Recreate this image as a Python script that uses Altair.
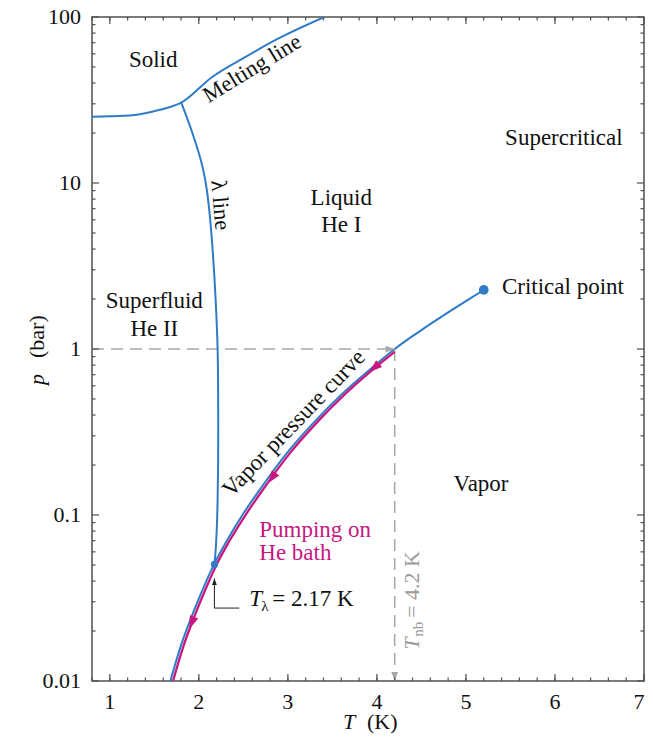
import altair as alt
import pandas as pd

FONT = "Liberation Serif"
BLUE = "#2f7bc8"
MAGENTA = "#c8177f"
GRAY = "#a8a8a8"
AXIS = "#505050"
INK = "#111111"

W, H = 552, 664

# ---- data ----
VP_T = [1.68, 1.8, 1.9, 2.0, 2.17, 2.3, 2.5, 2.7, 3.0, 3.3, 3.6, 4.0, 4.2, 4.5, 4.8, 5.0, 5.2]
VP_P = [0.0100, 0.0164, 0.0230, 0.0313, 0.0504, 0.0678, 0.102, 0.146, 0.240, 0.365, 0.530, 0.816, 1.00, 1.30, 1.66, 1.945, 2.27]

PUMP_T = [1.71, 1.83, 1.93, 2.03, 2.20, 2.33, 2.535, 2.735, 3.035, 3.335, 3.635, 4.035, 4.20]
PUMP_P = [0.0100, 0.0164, 0.0230, 0.0313, 0.0504, 0.0678, 0.102, 0.146, 0.240, 0.365, 0.530, 0.816, 0.96]

LAMBDA_T = [2.175, 2.189, 2.201, 2.211, 2.217, 2.217, 2.211, 2.189, 2.155, 2.117, 2.072, 2.022, 1.916, 1.803]
LAMBDA_P = [0.0504, 0.0616, 0.0813, 0.123, 0.214, 0.493, 1.0, 1.973, 3.95, 6.88, 10.42, 13.76, 20.86, 30.5]

MELT_T = [0.8, 1.0, 1.26, 1.56, 1.803, 2.15, 2.53, 2.90, 3.41]
MELT_P = [25.1, 25.2, 25.6, 27.6, 30.5, 43.5, 57.7, 74.5, 100.0]

CRIT_T, CRIT_P = [5.2], [2.27]
LPT_T, LPT_P = [2.175], [0.0504]

ARROW_T = [3.97, 2.82, 1.92]
ARROW_P = [0.77, 0.167, 0.0224]
ARROW_ANGLE = [139, 126, 111]

T_NB = 4.2
P_ATM = 1.0

X_MAJOR = [1, 2, 3, 4, 5, 6, 7]
X_LABELS = ["1", "2", "3", "4", "5", "6", "7"]
X_MINOR = [round(0.8 + 0.2 * k, 1) for k in range(32)]
Y_MAJOR = [0.01, 0.1, 1, 10, 100]
Y_LABELS = ["0.01", "0.1", "1", "10", "100"]
Y_MINOR = [m * 10.0 ** e for e in range(-2, 2) for m in range(2, 10)]

xs = alt.Scale(domain=[0.8, 7], nice=False, zero=False)
ys = alt.Scale(type="log", domain=[0.01, 100], nice=False)


def X(field="t"):
    return alt.X(f"{field}:Q", scale=xs, axis=None)


def Y(field="p"):
    return alt.Y(f"{field}:Q", scale=ys, axis=None)


def curve(ts, ps, color, width, interp, dash=None):
    df = pd.DataFrame({"t": ts, "p": ps, "i": list(range(len(ts)))})
    kw = dict(color=color, strokeWidth=width, interpolate=interp, clip=True)
    if dash:
        kw["strokeDash"] = dash
    return alt.Chart(df).mark_line(**kw).encode(x=X(), y=Y(), order="i:Q")


vapor = curve(VP_T, VP_P, BLUE, 2, "monotone")
dash_h = curve([0.8, T_NB], [P_ATM, P_ATM], GRAY, 1.5, "linear", [12, 7])
dash_v = curve([T_NB, T_NB], [P_ATM, 0.01], GRAY, 1.5, "linear", [12, 7])

pump = curve(PUMP_T, PUMP_P, MAGENTA, 2.3, "monotone")
lam = curve(LAMBDA_T, LAMBDA_P, BLUE, 2, "catmull-rom")
melt = curve(MELT_T, MELT_P, BLUE, 2, "monotone")

# leader for T_lambda
leader = curve([2.455, 2.175, 2.175], [0.0275, 0.0275, 0.0415], "#222222", 1, "linear")

TIP = "M0,0 L-2,-0.75 L-2,0.75 Z"
CENTERED = "M1,0 L-1,-0.7 L-1,0.7 Z"

gray_arrows = alt.Chart(pd.DataFrame({"t": [T_NB, T_NB], "p": [P_ATM, 0.01], "a": [0, 90]})).mark_point(
    shape=TIP, filled=True, size=81, color=GRAY, opacity=1, strokeWidth=0
).encode(x=X(), y=Y(), angle=alt.Angle("a:Q", scale=None))

leader_arrow = alt.Chart(pd.DataFrame({"t": [2.175], "p": [0.0415], "a": [270]})).mark_point(
    shape=TIP, filled=True, size=42, color="#222222", opacity=1, strokeWidth=0
).encode(x=X(), y=Y(), angle=alt.Angle("a:Q", scale=None))

pump_arrows = alt.Chart(pd.DataFrame({"t": ARROW_T, "p": ARROW_P, "a": ARROW_ANGLE})).mark_point(
    shape=CENTERED, filled=True, size=169, color=MAGENTA, opacity=1, strokeWidth=0
).encode(x=X(), y=Y(), angle=alt.Angle("a:Q", scale=None))

dots = alt.Chart(pd.DataFrame({"t": CRIT_T + LPT_T, "p": CRIT_P + LPT_P, "s": [95, 50]})).mark_circle(
    color=BLUE, opacity=1
).encode(x=X(), y=Y(), size=alt.Size("s:Q", scale=None, legend=None))


def label(t, p, s, color=INK, size=23, baseline="alphabetic", **kw):
    df = pd.DataFrame({"t": [t], "p": [p], "s": [s]})
    return alt.Chart(df).mark_text(font=FONT, fontSize=size, color=color, baseline=baseline, **kw).encode(
        x=X(), y=Y(), text="s:N")


labels = [
    label(1.487, 50.0, "Solid"),
    label(3.60, 7.36, "Liquid"),
    label(3.60, 5.09, "He I"),
    label(6.10, 16.9, "Supercritical"),
    label(1.50, 1.77, "Superfluid"),
    label(1.50, 1.197, "He II"),
    label(5.17, 0.14, "Vapor"),
    label(5.404, 2.14, "Critical point", align="left"),
    label(2.679, 0.0734, "Pumping on", color=MAGENTA, align="left"),
    label(2.679, 0.0536, "He bath", color=MAGENTA, align="left"),
    label(2.639, 45.1, "Melting line", size=22.5, angle=328.7),
    label(2.243, 7.36, "λ line", size=22.5, angle=85, baseline="middle"),
    label(3.085, 0.33, "Vapor pressure curve", size=23, angle=314, dx=3, dy=2),
    # T_lambda = 2.17 K
    label(2.567, 0.0283, "T", size=23, align="left", fontStyle="italic"),
    label(2.567, 0.0283, "λ", size=15, align="left", dx=12, dy=5),
    label(2.567, 0.0283, "= 2.17 K", size=23, align="left", dx=23),
    # T_nb = 4.2 K (rotated, gray)
    label(4.470, 0.0154, "T", color="#9a9a9a", size=22, align="left", angle=270, fontStyle="italic"),
    label(4.470, 0.0154, "nb", color="#9a9a9a", size=15, align="left", angle=270, dx=13, dy=4),
    label(4.470, 0.0154, "= 4.2 K", color="#9a9a9a", size=22, align="left", angle=270, dx=32),
]

# tick labels, placed through the scales
xl_df = pd.DataFrame({"t": X_MAJOR, "s": X_LABELS})
xlab = alt.Chart(xl_df.iloc[:-1]).mark_text(
    font=FONT, fontSize=22, color=INK, align="center", baseline="alphabetic"
).encode(x=X(), y=alt.value(H + 28), text="s:N")
xlab_last = alt.Chart(xl_df.iloc[-1:]).mark_text(
    font=FONT, fontSize=22, color=INK, align="center", baseline="alphabetic", dx=-5
).encode(x=X(), y=alt.value(H + 28), text="s:N")
ylab = alt.Chart(pd.DataFrame({"p": Y_MAJOR, "s": Y_LABELS})).mark_text(
    font=FONT, fontSize=22, color=INK, align="right", baseline="middle"
).encode(y=Y(), x=alt.value(-11), text="s:N")

# axis titles (pixel placed)
one = pd.DataFrame({"s": ["x"]})


def title_piece(text, x, y, angle=0, italic=False):
    kw = dict(font=FONT, fontSize=22, color=INK, align="left", baseline="alphabetic", text=text)
    if angle:
        kw["angle"] = angle
    if italic:
        kw["fontStyle"] = "italic"
    return alt.Chart(one).mark_text(**kw).encode(x=alt.value(x), y=alt.value(y))


titles = [
    title_piece("T", 251, 712, italic=True),
    title_piece("(K)", 275, 712),
    title_piece("p", -48, 368, angle=270, italic=True),
    title_piece("(bar)", -48, 341, angle=270),
]

# inward ticks
MAJ, MIN = 7, 3.5


def xticks(vals, length):
    df = pd.DataFrame({"t": vals})
    b = alt.Chart(df).mark_rule(color=AXIS, strokeWidth=1.2)
    return [b.encode(x=X(), y=alt.value(H), y2=alt.value(H - length)),
            b.encode(x=X(), y=alt.value(0), y2=alt.value(length))]


def yticks(vals, length):
    df = pd.DataFrame({"p": vals})
    b = alt.Chart(df).mark_rule(color=AXIS, strokeWidth=1.2)
    return [b.encode(y=Y(), x=alt.value(0), x2=alt.value(length)),
            b.encode(y=Y(), x=alt.value(W), x2=alt.value(W - length))]


ticks = xticks(X_MINOR, MIN) + xticks(X_MAJOR, MAJ) + yticks(Y_MINOR, MIN) + yticks(Y_MAJOR, MAJ)

chart = alt.layer(
    vapor, dash_h, dash_v, pump, lam, melt, leader, gray_arrows, leader_arrow, pump_arrows, dots,
    *labels, xlab, xlab_last, ylab, *titles, *ticks
).properties(
    width=W, height=H,
    padding={"left": 84, "top": 9, "right": 1, "bottom": 53},
    autosize=alt.AutoSizeParams(type="none"),
    background="white",
).configure_view(
    stroke=AXIS, strokeWidth=1.5
)

chart.save("out.html", embed_options={"renderer": "svg", "actions": False})
